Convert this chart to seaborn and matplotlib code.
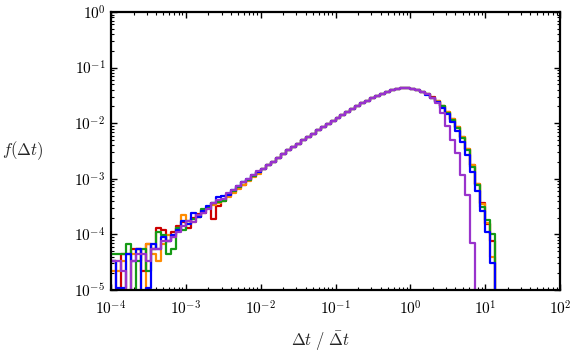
import numpy as np
import pandas as pd
import matplotlib
matplotlib.use("Agg")
import matplotlib.pyplot as plt
import matplotlib.ticker as mticker
import seaborn as sns

# log-spaced bins, 15 per decade, from 1e-4 up to ~16
edges = np.logspace(-4, 1.2, 79)

# noisy low end, bins 0-29 (one series per colour)
low_red = [3.3e-5, 0, 4.4e-5, 4.4e-5, 5.5e-5, 5.5e-5, 2.2e-5, 6.6e-5, 5.5e-5, 1.32e-4,
           1.21e-4, 7.7e-5, 1.10e-4, 1.43e-4, 1.65e-4, 1.32e-4, 1.98e-4, 2.31e-4, 2.42e-4, 2.97e-4,
           1.87e-4, 3.30e-4, 3.96e-4, 4.95e-4, 5.72e-4, 6.82e-4, 7.70e-4, 9.35e-4, 1.14e-3, 1.30e-3]
low_orange = [2.2e-5, 2.2e-5, 3.3e-5, 0, 4.4e-5, 5.5e-5, 0, 6.6e-5, 4.4e-5, 3.3e-5,
              6.6e-5, 9.9e-5, 8.8e-5, 1.32e-4, 2.20e-4, 1.54e-4, 1.65e-4, 2.09e-4, 2.75e-4, 2.97e-4,
              3.41e-4, 3.63e-4, 4.18e-4, 4.62e-4, 5.50e-4, 6.60e-4, 7.70e-4, 9.02e-4, 1.08e-3, 1.23e-3]
low_green = [4.4e-5, 4.4e-5, 4.4e-5, 6.6e-5, 0, 3.3e-5, 5.5e-5, 2.2e-5, 5.5e-5, 1.10e-4,
             9.9e-5, 4.4e-5, 5.5e-5, 1.32e-4, 1.21e-4, 1.76e-4, 1.87e-4, 2.09e-4, 2.86e-4, 2.97e-4,
             3.63e-4, 3.85e-4, 4.07e-4, 5.28e-4, 5.94e-4, 7.04e-4, 8.58e-4, 9.68e-4, 1.10e-3, 1.34e-3]
low_blue = [3.3e-5, 1.1e-5, 1.1e-5, 4.4e-5, 3.3e-5, 5.5e-5, 0, 1.1e-5, 6.6e-5, 5.5e-5,
            8.8e-5, 7.7e-5, 9.9e-5, 1.21e-4, 1.76e-4, 1.54e-4, 2.42e-4, 2.09e-4, 2.64e-4, 3.30e-4,
            3.63e-4, 4.62e-4, 4.84e-4, 5.17e-4, 6.27e-4, 7.37e-4, 8.58e-4, 9.90e-4, 1.17e-3, 1.34e-3]
low_purple = [3.3e-5, 3.3e-5, 2.2e-5, 0, 3.3e-5, 4.4e-5, 4.4e-5, 3.3e-5, 5.5e-5, 5.5e-5,
              7.7e-5, 7.7e-5, 8.8e-5, 1.10e-4, 1.43e-4, 1.76e-4, 1.65e-4, 2.20e-4, 2.42e-4, 2.86e-4,
              3.63e-4, 4.18e-4, 4.40e-4, 5.50e-4, 6.38e-4, 7.48e-4, 8.80e-4, 1.01e-3, 1.19e-3, 1.39e-3]

# smooth middle part, bins 30-62, where all runs lie on top of each other
mid = [1.51e-3, 1.78e-3, 2.04e-3, 2.40e-3, 2.75e-3, 3.24e-3, 3.72e-3, 4.27e-3, 4.90e-3, 5.62e-3,
       6.46e-3, 7.41e-3, 8.51e-3, 9.77e-3, 1.10e-2, 1.26e-2, 1.41e-2, 1.62e-2, 1.82e-2, 2.04e-2,
       2.29e-2, 2.51e-2, 2.82e-2, 3.09e-2, 3.39e-2, 3.63e-2, 3.89e-2, 4.07e-2, 4.27e-2, 4.27e-2,
       4.17e-2, 3.98e-2, 3.63e-2]

# cut-off tails, bins 63-77
tail_red = [3.31e-2, 2.90e-2, 2.47e-2, 2.02e-2, 1.57e-2, 1.18e-2, 8.50e-3, 5.70e-3, 3.45e-3, 1.78e-3,
            8.20e-4, 3.60e-4, 1.55e-4, 7.5e-5, 0]
tail_orange = [3.30e-2, 2.88e-2, 2.46e-2, 2.01e-2, 1.56e-2, 1.17e-2, 8.45e-3, 5.65e-3, 3.40e-3, 1.74e-3,
               8.00e-4, 3.55e-4, 1.60e-4, 4.0e-5, 0]
tail_green = [3.31e-2, 2.88e-2, 2.45e-2, 2.00e-2, 1.55e-2, 1.15e-2, 8.32e-3, 5.50e-3, 3.31e-3, 1.66e-3,
              7.59e-4, 3.16e-4, 1.78e-4, 1.0e-4, 0]
tail_blue = [3.28e-2, 2.85e-2, 2.40e-2, 1.91e-2, 1.45e-2, 1.05e-2, 7.24e-3, 4.68e-3, 2.69e-3, 1.32e-3,
             6.03e-4, 2.63e-4, 1.12e-4, 3.09e-5, 0]
tail_purple = [3.30e-2, 2.80e-2, 2.29e-2, 1.51e-2, 8.9e-3, 5.0e-3, 2.88e-3, 1.17e-3, 5.13e-4, 6.92e-5,
               0, 0, 0, 0, 0]

series = {
    "#cc0000": low_red + mid + tail_red,
    "#ff8c00": low_orange + mid + tail_orange,
    "#159a15": low_green + mid + tail_green,
    "#0000ff": low_blue + mid + tail_blue,
    "#9933cc": low_purple + mid + tail_purple,
}

sns.set_style("ticks")
plt.rcParams["mathtext.fontset"] = "cm"
plt.rcParams["font.family"] = ["DejaVu Serif"]

fig = plt.figure(figsize=(5.74, 3.54), dpi=100)
ax = fig.add_axes([0.1934, 0.1808, 0.7822, 0.7853])

for color, vals in series.items():
    df = pd.DataFrame({"t": edges, "f": list(vals) + [vals[-1]]})
    sns.lineplot(data=df, x="t", y="f", color=color, lw=1.6, drawstyle="steps-post",
                 estimator=None, sort=False, ax=ax)

ax.set_xscale("log")
ax.set_yscale("log")
ax.set_xlim(1e-4, 1e2)
ax.set_ylim(1e-5, 1e0)

fmt = mticker.FuncFormatter(lambda v, _: r"$10^{%d}$" % int(round(np.log10(v))))
ax.xaxis.set_major_formatter(fmt)
ax.yaxis.set_major_formatter(fmt)
ax.xaxis.set_major_locator(mticker.LogLocator(base=10, numticks=10))
ax.yaxis.set_major_locator(mticker.LogLocator(base=10, numticks=10))
ax.xaxis.set_minor_locator(mticker.LogLocator(base=10, subs=np.arange(2, 10), numticks=20))
ax.yaxis.set_minor_locator(mticker.LogLocator(base=10, subs=np.arange(2, 10), numticks=20))
ax.xaxis.set_minor_formatter(mticker.NullFormatter())
ax.yaxis.set_minor_formatter(mticker.NullFormatter())

ax.tick_params(which="both", direction="in", top=True, right=True, colors="black")
ax.tick_params(which="major", length=4, width=1, labelsize=11)
ax.tick_params(which="minor", length=2, width=0.8)
ax.tick_params(axis="x", which="major", pad=7)
ax.tick_params(axis="y", which="major", pad=4)
for sp in ax.spines.values():
    sp.set_linewidth(1.6)
    sp.set_color("black")

ax.set_xlabel(r"$\Delta t\ /\ \bar{\Delta} t$", fontsize=12, va="center")
ax.set_ylabel(r"$f(\Delta t)$", fontsize=12, rotation=0, ha="center", va="center")
ax.xaxis.set_label_coords(0.468, -0.183)
ax.yaxis.set_label_coords(-0.197, 0.5)

fig.savefig("out.png", dpi=100)
